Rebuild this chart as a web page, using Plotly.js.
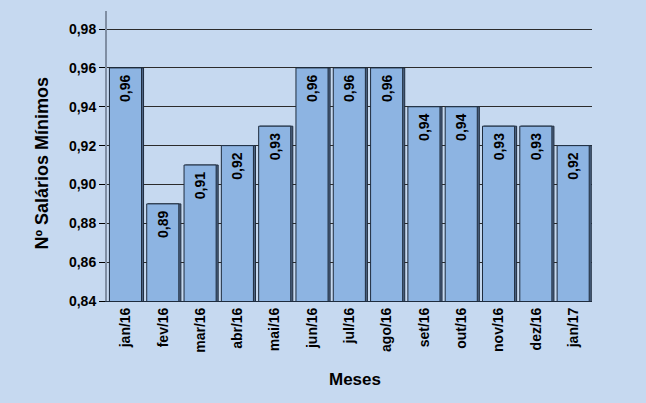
<!DOCTYPE html>
<html>
<head>
<meta charset="utf-8">
<script src="https://cdn.plot.ly/plotly-3.0.1.min.js"></script>
<style>html,body{margin:0;padding:0;background:#c6d9f0;}#chart{width:646px;height:403px;}</style>
</head>
<body>
<div id="chart"></div>
<script>
const months = ["jan/16","fev/16","mar/16","abr/16","mai/16","jun/16","jul/16","ago/16","set/16","out/16","nov/16","dez/16","jan/17"];
const values = [0.96,0.89,0.91,0.92,0.93,0.96,0.96,0.96,0.94,0.94,0.93,0.93,0.92];
const yTicks = [0.84,0.86,0.88,0.90,0.92,0.94,0.96,0.98];

const font = "Liberation Sans, Arial, sans-serif";

const shadow = {
  type: "bar", x: months, y: values,
  width: 0.88, offset: -0.40,
  marker: {color: "#4e6483", line: {color: "#1e2c3e", width: 1}},
  hoverinfo: "skip", showlegend: false
};
const main = {
  type: "bar", x: months, y: values,
  width: 0.86, offset: -0.435,
  marker: {color: "#8db4e2", line: {color: "#1e2c3e", width: 1}},
  text: values.map(v => v.toFixed(2).replace(".", ",") + "\u00a0"),
  textposition: "inside", insidetextanchor: "end", textangle: -90,
  textfont: {family: font, size: 14, color: "#000", weight: "bold"},
  constraintext: "none", cliponaxis: true,
  showlegend: false
};

Plotly.newPlot("chart", [shadow, main], {
  width: 646, height: 403,
  paper_bgcolor: "#c6d9f0", plot_bgcolor: "#c6d9f0",
  margin: {l: 107, r: 54, t: 11, b: 102},
  barmode: "overlay",
  separators: ",.",
  font: {family: font, color: "#000"},
  xaxis: {
    type: "category", tickangle: -90, ticks: "",
    tickfont: {family: font, size: 14, weight: "bold"},
    showline: true, linecolor: "#1e2c3e", linewidth: 1,
    showgrid: false
  },
  yaxis: {
    range: [0.84, 0.9893], tickvals: yTicks, tickformat: ".2f",
    ticks: "outside", ticklen: 6, tickcolor: "#000",
    tickfont: {family: font, size: 14, weight: "bold"},
    showgrid: true, gridcolor: "#2b2b2b", gridwidth: 1,
    showline: true, linecolor: "#7f8ea3", linewidth: 2,
    zeroline: false
  },
  annotations: [
    {text: "Meses", xref: "paper", yref: "paper", x: 0.512, y: -0.27, xanchor: "center", yanchor: "middle",
     showarrow: false, font: {family: font, size: 17, weight: "bold"}},
    {text: "Nº Salários Mínimos", xref: "paper", yref: "paper", x: -0.136, y: 0.474, xanchor: "center", yanchor: "middle",
     textangle: -90, showarrow: false, font: {family: font, size: 18, weight: "bold"}}
  ]
}, {displayModeBar: false, staticPlot: true});
</script>
</body>
</html>
